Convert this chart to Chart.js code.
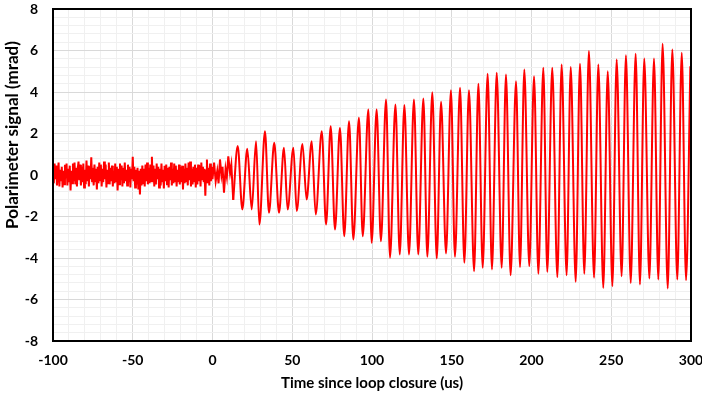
<!DOCTYPE html>
<html>
<head>
<meta charset="utf-8">
<script src="https://cdn.jsdelivr.net/npm/chart.js@4"></script>
<style>
  body { margin: 0; background: #fff; }
</style>
</head>
<body>
<canvas id="polar" width="702" height="400"></canvas>
<script>
// noise before loop closure (us, mrad)
var noiseTime = [
  -100, -99.5, -99, -98.5, -98, -97.5, -97, -96.5, -96, -95.5, -95, -94.5, -94, -93.5, -93, -92.5, -92, -91.5, -91, -90.5,
  -90, -89.5, -89, -88.5, -88, -87.5, -87, -86.5, -86, -85.5, -85, -84.5, -84, -83.5, -83, -82.5, -82, -81.5, -81, -80.5,
  -80, -79.5, -79, -78.5, -78, -77.5, -77, -76.5, -76, -75.5, -75, -74.5, -74, -73.5, -73, -72.5, -72, -71.5, -71, -70.5,
  -70, -69.5, -69, -68.5, -68, -67.5, -67, -66.5, -66, -65.5, -65, -64.5, -64, -63.5, -63, -62.5, -62, -61.5, -61, -60.5,
  -60, -59.5, -59, -58.5, -58, -57.5, -57, -56.5, -56, -55.5, -55, -54.5, -54, -53.5, -53, -52.5, -52, -51.5, -51, -50.5,
  -50, -49.5, -49, -48.5, -48, -47.5, -47, -46.5, -46, -45.5, -45, -44.5, -44, -43.5, -43, -42.5, -42, -41.5, -41, -40.5,
  -40, -39.5, -39, -38.5, -38, -37.5, -37, -36.5, -36, -35.5, -35, -34.5, -34, -33.5, -33, -32.5, -32, -31.5, -31, -30.5,
  -30, -29.5, -29, -28.5, -28, -27.5, -27, -26.5, -26, -25.5, -25, -24.5, -24, -23.5, -23, -22.5, -22, -21.5, -21, -20.5,
  -20, -19.5, -19, -18.5, -18, -17.5, -17, -16.5, -16, -15.5, -15, -14.5, -14, -13.5, -13, -12.5, -12, -11.5, -11, -10.5,
  -10, -9.5, -9, -8.5, -8, -7.5, -7, -6.5, -6, -5.5, -5, -4.5, -4, -3.5, -3, -2.5, -2, -1.5, -1, -0.5];
var noiseSignal = [
  0.3, -0.4, 0.55, -0.2, 0.45, -0.5, 0.1, 0.6, -0.55, 0.25, -0.3, 0.4, -0.6, 0.2, -0.45, 0.5, -0.15, 0.55, -0.5, 0.3,
  -0.35, 0.45, -0.75, 0.2, -0.4, 0.55, -0.3, 0.6, -0.45, 0.35, -0.55, 0.3, 0.65, -0.25, 0.5, -0.5, 0.4, -0.35, 0.55, -0.6,
  0.25, -0.45, 0.7, -0.3, 0.45, -0.55, 0.3, -0.2, 0.85, -0.3, 0.35, -0.5, 0.5, -0.35, 0.3, -0.7, 0.4, -0.4, 0.6, -0.25,
  0.5, -0.55, 0.3, -0.35, 0.65, -0.2, 0.5, -0.6, 0.25, -0.4, 0.6, -0.45, 0.35, -0.3, 0.45, -0.55, 0.2, -0.4, 0.55, -0.3,
  0.4, -0.75, 0.3, -0.45, 0.55, -0.25, 0.45, -0.55, 0.35, -0.4, 0.6, -0.3, 0.25, -0.5, 0.5, -0.35, 0.4, -0.6, 0.3, -0.2,
  0.88, -0.3, 0.4, -0.6, 0.25, -0.45, 0.35, -0.7, 0.2, -0.94, 0.3, -0.5, 0.45, -0.4, 0.3, -0.55, 0.5, -0.3, 0.6, -0.45,
  0.35, -0.4, 0.5, -0.3, 0.88, -0.35, 0.45, -0.55, 0.3, -0.45, 0.55, -0.2, 0.4, -0.6, 0.3, -0.5, 0.55, -0.35, 0.25, -0.65,
  0.45, -0.3, 0.5, -0.45, 0.35, -0.6, 0.4, -0.25, 0.6, -0.5, 0.3, -0.4, 0.55, -0.3, 0.45, -0.55, 0.25, -0.35, 0.5, -0.45,
  0.4, -0.35, 0.45, -0.7, 0.3, -0.4, 0.55, -0.3, 0.35, -0.5, 0.6, -0.25, 0.65, -0.55, 0.3, -0.45, 0.4, -0.3, 0.5, -0.6,
  0.35, -0.45, 0.5, -0.3, 0.45, -0.55, 0.6, -0.2, 0.4, -0.35, 0.3, -1.0, 0.2, 0.75, -0.4, 0.35, -0.5, 0.55, -0.3, 0.4];

// oscillation starting up
var startTime = [0, 1, 2, 3, 3.8, 4.7, 5.6, 6.3, 7.2, 8.2, 9, 9.9, 11, 11.8, 13];
var startSignal = [-0.2, 0.6, -0.3, 0.2, -0.4, 0.75, 0, 0.4, -0.85, 0.3, -0.1, 0.9, 0.1, 0.5, -1.2];

// peaks and troughs of the growing oscillation
var peakTime = [15.8, 18.7, 21.8, 24.6, 27.3, 29.4, 32.9, 35.4, 38.7, 41.7, 44.8, 47.1, 50.7, 52.8, 56.4, 59,
  62.2, 64.7, 68.5, 71.2, 74.1, 76.8, 79.9, 82.6, 85.6, 88.3, 91.8, 94.2, 97.7, 99.8,
  102.9, 105.6, 108.8, 111.3, 114.7, 117.4, 120.3, 123.2, 126.3, 129, 132.2, 134.7, 137.8, 140.6, 143.3, 146.4, 149.5,
  152, 155.2, 157.9, 160.8, 164, 166.7, 169.4, 172.5, 175.2, 178.2, 181.3, 184, 186.9, 190.3, 192.8, 195.5, 198.6,
  201.6, 204.3, 207.4, 209.9, 213, 216.2, 218.9, 222, 224.6, 227.7, 230.4, 233.1, 236, 239.2, 241.9, 245, 247.8,
  250.7, 253.4, 256.5, 259.2, 262.2, 265.3, 268, 270.7, 273.9, 276.8, 279.5, 282.2, 285.4, 288.3, 291.4, 294.2, 296.9, 299.6];
var peakSignal = [1.4, -1.66, 1.26, -1.66, 1.63, -2.39, 2.11, -1.82, 1.55, -1.82, 1.31, -1.66, 1.31, -1.74, 1.5, -1.18,
  1.63, -1.9, 2.11, -2.39, 2.35, -2.63, 2.27, -2.95, 2.59, -3.11, 2.76, -2.95, 3.16, -3.27,
  3.16, -3.19, 3.64, -3.99, 3.4, -3.83, 3.37, -3.83, 3.64, -3.83, 3.69, -3.94, 3.99, -4.02, 3.53, -3.78, 4.09,
  -3.94, 4.2, -4.23, 4.09, -4.64, 4.4, -4.47, 4.88, -4.55, 4.93, -4.47, 4.84, -4.83, 4.52, -4.44, 5.08, -4.39,
  4.76, -4.76, 5.17, -4.67, 5.17, -4.92, 5.33, -4.83, 5.2, -5.15, 5.36, -4.76, 5.97, -4.95, 5.33, -5.44, 5.0,
  -5.36, 5.57, -4.88, 5.77, -5.2, 5.84, -5.28, 5.61, -4.99, 5.61, -5.04, 6.32, -5.47, 6.05, -5.04, 5.89, -5.07, 5.24];

var toPoints = function(ts, vs) {
  return ts.map(function(t, i) { return { x: t, y: vs[i] }; });
};

// noisy part drawn with straight segments, oscillation smoothed through its extrema
var noisyPoints = toPoints(noiseTime.concat(startTime), noiseSignal.concat(startSignal));
var lastStart = startTime.length - 1;
var oscPoints = toPoints([startTime[lastStart]].concat(peakTime), [startSignal[lastStart]].concat(peakSignal));

var isMajor = function(v, step) {
  var r = v / step;
  return Math.abs(r - Math.round(r)) < 1e-6;
};

var tickFont = { family: 'Lato', weight: 'bold', size: 14 };
var titleFont = { family: 'Lato', weight: 'bold', size: 15 };

// black frame round the plot area and the rotated y title
var frame = {
  id: 'frame',
  afterDraw: function(chart) {
    var a = chart.chartArea, c = chart.ctx;
    c.save();
    c.strokeStyle = '#000';
    c.lineWidth = 2;
    c.strokeRect(a.left, a.top, a.right - a.left, a.bottom - a.top);
    c.translate(13, 135);
    c.rotate(-Math.PI / 2);
    c.fillStyle = '#000';
    c.font = 'bold 17px Lato';
    c.textAlign = 'center';
    c.textBaseline = 'middle';
    c.fillText('Polarimeter signal (mrad)', 0, 0);
    c.restore();
  }
};

var lineStyle = {
  borderColor: '#ff0000',
  borderWidth: 2,
  pointRadius: 0,
  fill: false
};

new Chart(document.getElementById('polar'), {
  type: 'line',
  data: {
    datasets: [
      Object.assign({ data: noisyPoints, tension: 0 }, lineStyle),
      Object.assign({ data: oscPoints, cubicInterpolationMode: 'monotone' }, lineStyle)
    ]
  },
  options: {
    responsive: false,
    animation: false,
    devicePixelRatio: 1,
    layout: { padding: { left: 0, right: 11, top: 9, bottom: 0 } },
    plugins: { legend: { display: false }, tooltip: { enabled: false } },
    scales: {
      x: {
        type: 'linear',
        min: -100,
        max: 300,
        afterFit: function(s) { s.height = 59; s.paddingLeft = 0; s.paddingRight = 0; },
        border: { display: false },
        grid: {
          drawTicks: false,
          color: function(ctx) { return isMajor(ctx.tick.value, 50) ? '#d9d9d9' : '#f0f0f0'; }
        },
        ticks: {
          stepSize: 10,
          autoSkip: false,
          maxRotation: 0,
          padding: 11,
          color: '#000',
          font: tickFont,
          callback: function(v) { return isMajor(v, 50) ? String(v) : ''; }
        },
        title: {
          display: true,
          text: 'Time since loop closure (us)',
          color: '#000',
          font: titleFont,
          padding: { top: 0, bottom: 8 }
        }
      },
      y: {
        min: -8,
        max: 8,
        afterFit: function(s) { s.width = 53; s.paddingTop = 0; s.paddingBottom = 0; },
        border: { display: false },
        grid: {
          drawTicks: false,
          color: function(ctx) { return isMajor(ctx.tick.value, 2) ? '#d9d9d9' : '#f0f0f0'; }
        },
        ticks: {
          stepSize: 0.4,
          autoSkip: false,
          padding: 15,
          color: '#000',
          font: tickFont,
          callback: function(v) { return isMajor(v, 2) ? String(Math.round(v)) : ''; }
        }
      }
    }
  },
  plugins: [frame]
});
</script>
</body>
</html>
